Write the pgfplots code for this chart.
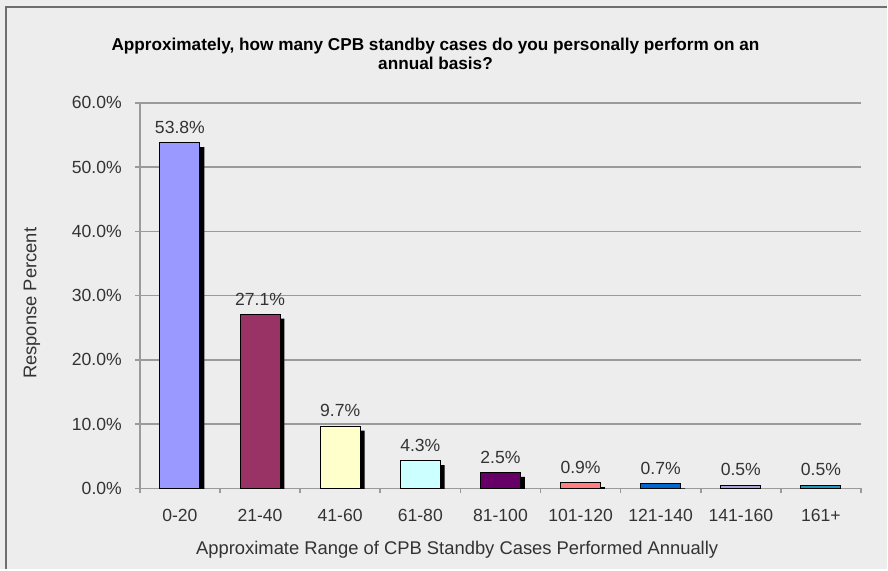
\documentclass[border=0pt]{standalone}
\usepackage{fontspec}
\setmainfont{Liberation Sans}
\usepackage{pgfplots}
\pgfplotsset{compat=1.18}

\definecolor{bg}{HTML}{EDEDED}
\definecolor{frame}{HTML}{6E6E6E}
\definecolor{gridc}{HTML}{9A9A9A}
\definecolor{txt}{HTML}{333333}
\definecolor{cA}{HTML}{9999FF}
\definecolor{cB}{HTML}{993366}
\definecolor{cC}{HTML}{FFFFCC}
\definecolor{cD}{HTML}{CCFFFF}
\definecolor{cE}{HTML}{660066}
\definecolor{cF}{HTML}{FF8080}
\definecolor{cG}{HTML}{0066CC}
\definecolor{cH}{HTML}{ABA4D8}
\definecolor{cI}{HTML}{2299BB}

\pgfplotsset{
  colbar/.style={ybar, bar shift=0pt, bar width=20pt, fill=#1, draw=black, line width=0.5pt,
    nodes near coords={\pgfmathprintnumber[fixed,fixed zerofill,precision=1]{\pgfplotspointmeta}\%},
    every node near coord/.append style={font=\fontsize{8.8}{10}\selectfont, text=txt, yshift=1pt}},
}

\begin{document}
\begin{tikzpicture}
\fill[bg] (0,0) rectangle (444pt,285pt);
\draw[frame, line width=1pt] (3pt,0) -- (3pt,281.5pt) -- (444pt,281.5pt);

\node[font=\bfseries\fontsize{8.6}{9.5}\selectfont, align=center] at (218pt,258pt)
  {Approximately, how many CPB standby cases do you personally perform on an\\annual basis?};

\begin{axis}[
  scale only axis, width=361pt, height=193pt,
  at={(70pt,40.5pt)}, anchor=south west,
  xmin=-0.5, xmax=8.5, ymin=0, ymax=60,
  axis x line*=bottom, axis y line*=left,
  axis line style={draw=gridc, line width=0.75pt},
  xtick={0,...,8},
  xticklabels={0-20,21-40,41-60,61-80,81-100,101-120,121-140,141-160,161+},
  major x tick style={draw=none},
  minor xtick={-0.5,0.5,...,8.5},
  minor x tick style={draw=gridc, line width=0.75pt},
  minor tick length=2.5pt,
  ytick={0,10,...,60},
  y tick style={draw=gridc, line width=0.75pt},
  major tick length=2.5pt,
  tick align=outside,
  yticklabel={\pgfmathprintnumber[fixed,fixed zerofill,precision=1]{\tick}\%},
  /pgf/number format/assume math mode=true,
  ymajorgrids,
  grid style={draw=gridc, line width=0.75pt},
  tick label style={font=\fontsize{8.8}{10}\selectfont, text=txt},
  xticklabel style={yshift=-4.5pt},
  yticklabel style={xshift=-3pt},
  xlabel={Approximate Range of CPB Standby Cases Performed Annually},
  ylabel={Response Percent},
  label style={font=\fontsize{9.2}{11}\selectfont, text=txt},
  xlabel style={at={(axis description cs:0.44,0)}, anchor=center, yshift=-30.5pt},
  ylabel style={at={(axis description cs:0,0.48)}, anchor=center, yshift=54pt},
]
% shadows
\addplot[ybar, bar shift=2.2pt, bar width=20pt, fill=black, draw=none, yshift=-2.2pt]
  coordinates {(0,53.8)(1,27.1)(2,9.7)(3,4.3)(4,2.5)(5,0.9)(6,0.7)(7,0.5)(8,0.5)};
\addplot[colbar=cA] coordinates {(0,53.8)};
\addplot[colbar=cB] coordinates {(1,27.1)};
\addplot[colbar=cC] coordinates {(2,9.7)};
\addplot[colbar=cD] coordinates {(3,4.3)};
\addplot[colbar=cE] coordinates {(4,2.5)};
\addplot[colbar=cF] coordinates {(5,0.9)};
\addplot[colbar=cG] coordinates {(6,0.7)};
\addplot[colbar=cH] coordinates {(7,0.5)};
\addplot[colbar=cI] coordinates {(8,0.5)};
\end{axis}
\end{tikzpicture}
\end{document}
